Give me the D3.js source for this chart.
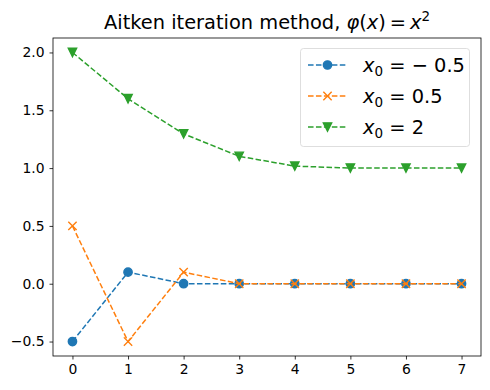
<!DOCTYPE html>
<html>
<head>
<meta charset="utf-8">
<script src="https://cdn.jsdelivr.net/npm/d3@7"></script>
<style>
  body { margin: 0; background: #fff; }
  text { font-family: "DejaVu Sans", sans-serif; }
</style>
</head>
<body>
<svg width="490" height="390"></svg>
<script>
var svg = d3.select('svg');

// data
var iterations = [0, 1, 2, 3, 4, 5, 6, 7];
var seriesA = [-0.5, 0.1, 0.0, 0.0, 0.0, 0.0, 0.0, 0.0];   // x0 = -0.5
var seriesB = [0.5, -0.5, 0.1, 0.0, 0.0, 0.0, 0.0, 0.0];   // x0 = 0.5
var seriesC = [2.0, 1.6, 1.296, 1.102, 1.017, 1.0005, 1.0, 1.0]; // x0 = 2
var yTicks = [-0.5, 0.0, 0.5, 1.0, 1.5, 2.0];

// plot area (window.top is reserved, so prefix names)
var plotL = 53, plotR = 481, plotT = 38, plotB = 356;

var x = d3.scaleLinear().domain([-0.35, 7.35]).range([plotL, plotR]);
var y = d3.scaleLinear().domain([-0.625, 2.125]).range([plotB, plotT]);

svg.append("rect").attr("width", "100%").attr("height", "100%").attr("fill", "#fff");

// axes
var gx = svg.append("g").attr("transform", "translate(0," + plotB + ")")
    .call(d3.axisBottom(x).tickValues(iterations).tickFormat(d3.format("d")).tickSize(3.5).tickPadding(5));
var gy = svg.append("g").attr("transform", "translate(" + plotL + ",0)")
    .call(d3.axisLeft(y).tickValues(yTicks).tickFormat(d3.format(".1f")).tickSize(3.5).tickPadding(5));
[gx, gy].forEach(function (g) {
    g.select(".domain").remove();
    g.selectAll("text").attr("font-size", "13.9px").attr("fill", "#000")
        .style("font-family", "DejaVu Sans");
    g.selectAll("line").attr("stroke", "#000").attr("stroke-width", 0.8);
});
gy.selectAll("text").text(function (d) { return d3.format(".1f")(d).replace("-", "\u2212"); });

svg.append("rect")
    .attr("x", plotL).attr("y", plotT)
    .attr("width", plotR - plotL).attr("height", plotB - plotT)
    .attr("fill", "none").attr("stroke", "#000").attr("stroke-width", 0.8);

var series = [
    {vals: seriesA, color: "#1f77b4", marker: "o", label: ["\u2212", "0.5"]},
    {vals: seriesB, color: "#ff7f0e", marker: "x", label: [null, "0.5"]},
    {vals: seriesC, color: "#2ca02c", marker: "v", label: [null, "2"]}
];

var line = d3.line()
    .x(function (d, i) { return x(iterations[i]); })
    .y(function (d) { return y(d); });

function drawMarker(g, m, cx, cy, color) {
    if (m === "o") {
        g.append("circle").attr("cx", cx).attr("cy", cy).attr("r", 4.17)
            .attr("fill", color).attr("stroke", color).attr("stroke-width", 1.39);
    } else if (m === "x") {
        var s = 4.17;
        g.append("path")
            .attr("d", "M" + (cx - s) + "," + (cy - s) + "L" + (cx + s) + "," + (cy + s) +
                       "M" + (cx - s) + "," + (cy + s) + "L" + (cx + s) + "," + (cy - s))
            .attr("stroke", color).attr("stroke-width", 1.39).attr("fill", "none");
    } else {
        var r = 4.17;
        g.append("path")
            .attr("d", "M" + (cx - r) + "," + (cy - r) + "L" + (cx + r) + "," + (cy - r) +
                       "L" + cx + "," + (cy + r) + "Z")
            .attr("fill", color).attr("stroke", color).attr("stroke-width", 1.39)
            .attr("stroke-linejoin", "miter");
    }
}

series.forEach(function (s) {
    svg.append("path")
        .datum(s.vals)
        .attr("d", line)
        .attr("fill", "none")
        .attr("stroke", s.color)
        .attr("stroke-width", 1.5)
        .attr("stroke-dasharray", "5.55,2.4");
    var g = svg.append("g");
    s.vals.forEach(function (v, i) {
        drawMarker(g, s.marker, x(iterations[i]), y(v), s.color);
    });
});

// title
var title = svg.append("text")
    .attr("x", (plotL + plotR) / 2).attr("y", 29)
    .attr("text-anchor", "middle").attr("font-size", "19.4px");
title.append("tspan").text("Aitken iteration method, ");
title.append("tspan").attr("font-style", "italic").text("\u03c6");
title.append("tspan").text("(");
title.append("tspan").attr("font-style", "italic").text("x");
title.append("tspan").text(")\u2009=\u2009");
title.append("tspan").attr("font-style", "italic").text("x");
title.append("tspan").attr("font-size", "13.5px").attr("dy", -8).text("2");

// legend
var lg = svg.append("g");
lg.append("rect")
    .attr("x", 300.5).attr("y", 48.5).attr("width", 169).attr("height", 98)
    .attr("rx", 3).attr("fill", "#fff").attr("fill-opacity", 0.8)
    .attr("stroke", "#d6d6d6").attr("stroke-width", 0.8);

series.forEach(function (s, i) {
    var cy = 65 + i * 31;
    lg.append("line")
        .attr("x1", 308).attr("x2", 347).attr("y1", cy).attr("y2", cy)
        .attr("stroke", s.color).attr("stroke-width", 1.5)
        .attr("stroke-dasharray", "5.55,2.4");
    drawMarker(lg, s.marker, 327.5, cy, s.color);
    var t = lg.append("text").attr("x", 363).attr("y", cy + 7).attr("font-size", "19.4px");
    t.append("tspan").attr("font-style", "italic").text("x");
    t.append("tspan").attr("font-size", "13.5px").attr("dy", 4).text("0");
    t.append("tspan").attr("dy", -4).text(" = ");
    if (s.label[0]) t.append("tspan").text(s.label[0] + " ");
    t.append("tspan").text(s.label[1]);
});
</script>
</body>
</html>
